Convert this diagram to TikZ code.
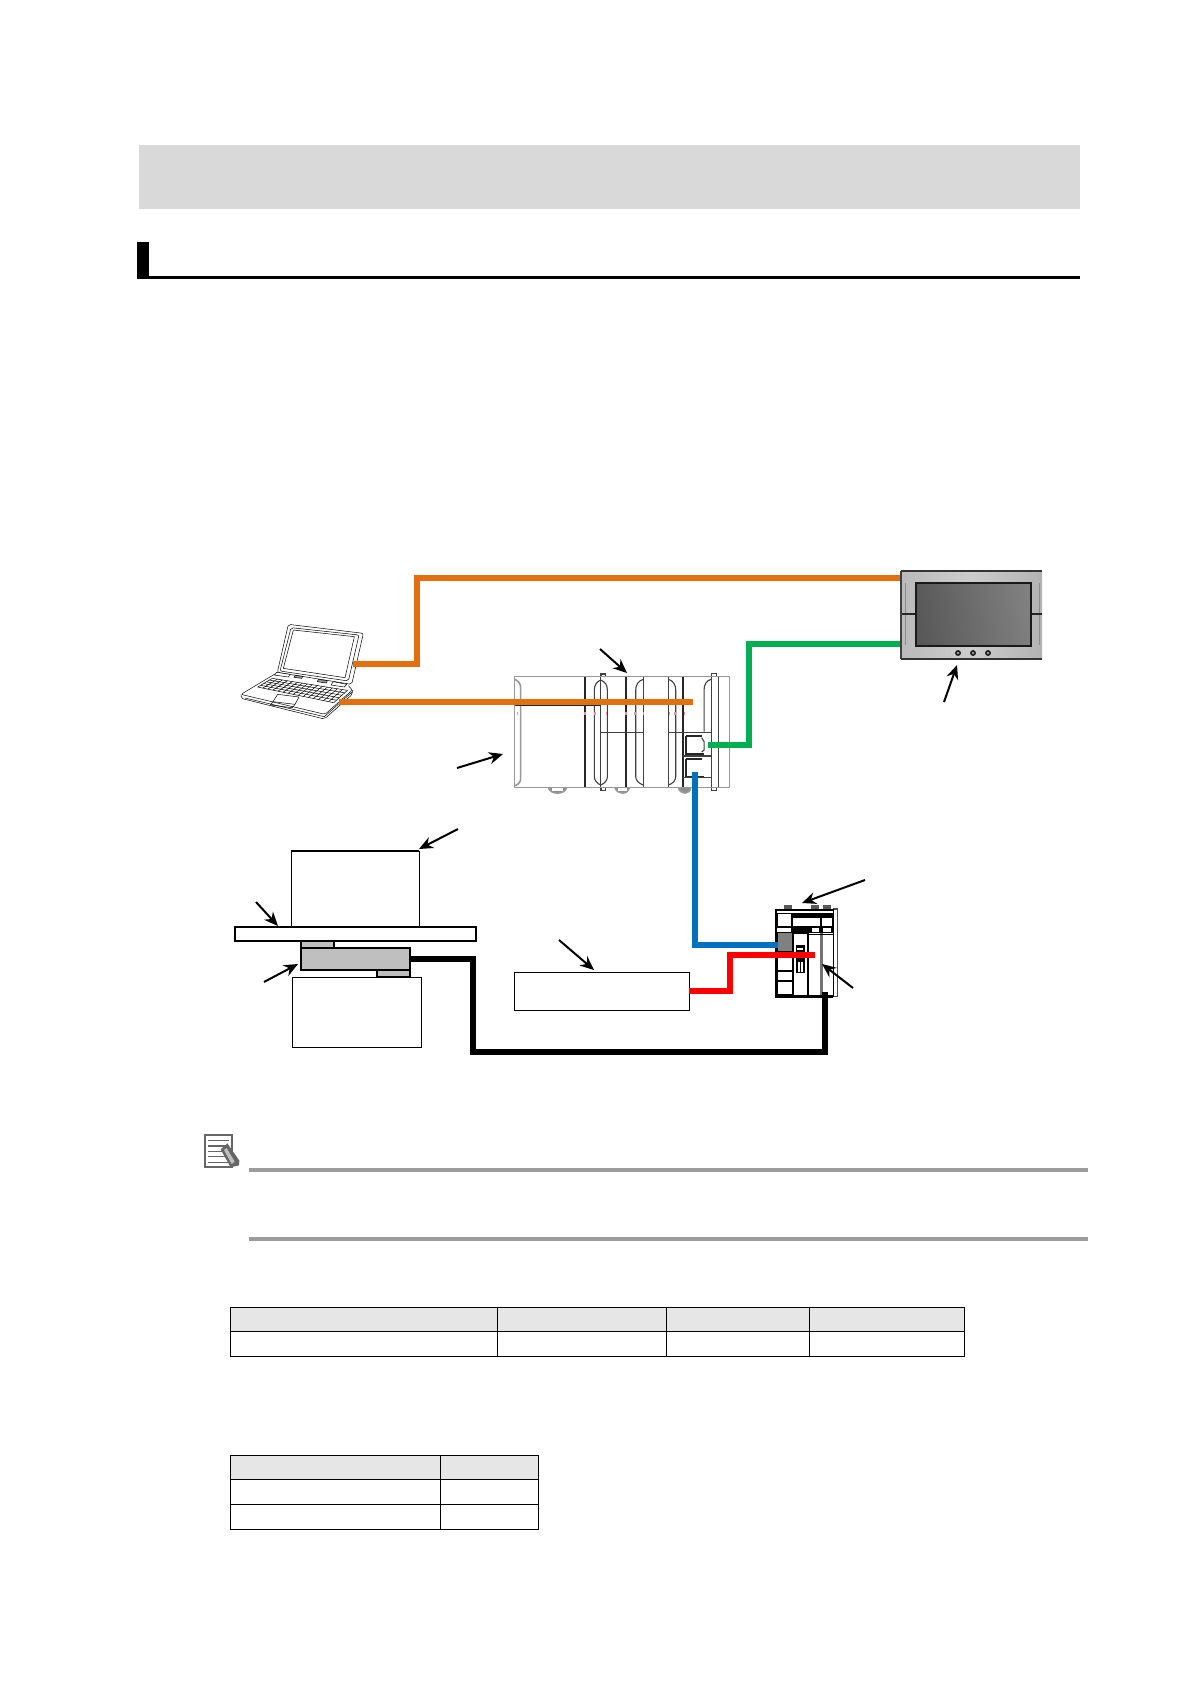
\documentclass[tikz,border=0pt]{standalone}
\usetikzlibrary{arrows.meta,calc,fit}
\definecolor{cblorange}{HTML}{E26F10}
\definecolor{cblgreen}{HTML}{00B050}
\definecolor{cblblue}{HTML}{0070C0}
\definecolor{cblred}{HTML}{FF0000}
\definecolor{bandgray}{HTML}{D9D9D9}
\definecolor{headgray}{HTML}{E6E6E6}
\definecolor{actgray}{HTML}{BFBFBF}
\definecolor{rulegray}{HTML}{9C9C9C}
\tikzset{
  cable/.style={line width=2.7pt,miter limit=10},
  pointer/.style={line width=1pt,-{Stealth[length=7pt,width=6pt]}},
  mbox/.style={inner sep=0pt,outer sep=0pt,draw=black,line width=0.45pt,fill=white},
  cellhead/.style={inner sep=0pt,outer sep=0pt,draw=black,line width=0.5pt,fill=headgray},
  cellbody/.style={inner sep=0pt,outer sep=0pt,draw=black,line width=0.5pt,fill=white},
  plcline/.style={draw=black!75,line width=0.55pt},
  plcthick/.style={draw=black!85,line width=1pt},
  plcpale/.style={draw=black!40,line width=0.8pt},
  lap/.style={draw=black,line width=0.25pt,line join=round},
  devfill/.style={fill=black,draw=none},
  devwhite/.style={fill=white,draw=none}
}
\newcommand{\rectnode}[6]{%
  \coordinate (#2-p) at (#3,#4); \coordinate (#2-q) at (#5,#6);
  \node[#1,fit=(#2-p)(#2-q)] (#2) {};}
\newcommand{\pointerline}[5]{%
  \coordinate (#1s) at (#2,#3); \coordinate (#1e) at (#4,#5);
  \draw[pointer] (#1s) -- (#1e);}
\begin{document}
\begin{tikzpicture}[x=0.5pt,y=-0.5pt]
\useasboundingbox (0,0) rectangle (1191,1684);
\fill[white] (0,0) rectangle (1191,1684);

% title band and section head
\rectnode{fill=bandgray,inner sep=0pt,outer sep=0pt}{band}{139}{145}{1080}{209.5}
\rectnode{fill=black,inner sep=0pt,outer sep=0pt}{secblock}{137}{242}{149}{279}
\rectnode{fill=black,inner sep=0pt,outer sep=0pt}{secrule}{149}{276}{1080}{279}

% laptop
\begin{scope}[shift={(235,615)},x=0.1667pt,y=-0.1667pt]
\draw[lap,rounded corners=1pt] (160,28) -- (385,55) -- (350,208) -- (127,172) -- cycle;
\draw[lap,rounded corners=1pt] (168,38) -- (372,60) -- (340,198) -- (135,168) -- cycle;
\draw[lap] (175,45) -- (358,65) -- (330,188) -- (145,160) -- cycle;
\draw[lap,rounded corners=1pt] (118,178) -- (18,238) -- (270,298) -- (352,225) -- (340,212);
\draw[lap,rounded corners=1pt] (18,238) -- (18,250) -- (268,312) -- (352,238) -- (352,225);
\draw[lap] (30,249) -- (268,305) -- (350,232);
\draw[lap,fill=white] (125,172) -- (165,178) -- (160,186) -- (118,180) -- cycle;
\draw[lap,fill=white] (295,200) -- (335,208) -- (328,216) -- (288,210) -- cycle;
\draw[lap,fill=black!40] (180,181) -- (203,184) -- (200,190) -- (177,187) -- cycle;
\draw[lap,fill=black!40] (250,193) -- (277,197) -- (274,204) -- (247,200) -- cycle;
\coordinate (ka) at (112,190); \coordinate (kb) at (337,226);
\coordinate (kc) at (296,263); \coordinate (kd) at (68,216);
\foreach \t in {0,0.0667,...,1.01} \draw[lap] ($(ka)!\t!(kb)$) -- ($(kd)!\t!(kc)$);
\foreach \t in {0,0.2,...,1.01} \draw[lap] ($(ka)!\t!(kd)$) -- ($(kb)!\t!(kc)$);
\draw[lap,fill=white] (128,238) -- (192,246) -- (180,268) -- (114,260) -- cycle;
\draw[lap] (114,260) -- (106,270) -- (172,278) -- (180,268);
\end{scope}

% PLC
\begin{scope}[shift={(500,670)},x=0.1667pt,y=-0.1667pt]
\draw[plcpale,fill=black!45] (145,352) .. controls (150,375) and (195,375) .. (200,352) -- cycle;
\draw[plcpale,fill=black!45] (345,352) .. controls (350,375) and (385,375) .. (388,352) -- cycle;
\draw[plcpale,fill=black!45] (535,352) .. controls (540,375) and (570,375) .. (572,352) -- cycle;
\fill[white] (155,352) rectangle (190,362);
\fill[white] (355,352) rectangle (380,362);
\draw[plcline,fill=white] (303,12) rectangle (317,22);
\draw[plcline,fill=white] (303,350) rectangle (317,362);
\draw[plcline,fill=white] (633,10) rectangle (650,22);
\draw[plcline,fill=white] (633,350) rectangle (650,362);
\draw[plcpale,fill=white] (44,20) rectangle (688,352);
\draw[plcpale] (44,28) .. controls (55,32) and (62,40) .. (62,55) -- (62,325) .. controls (62,335) and (55,345) .. (44,347);
\draw[plcline] (302,30) .. controls (290,35) and (283,45) .. (283,60) -- (283,320) .. controls (283,330) and (290,340) .. (302,345) .. controls (315,340) and (322,330) .. (322,320) -- (322,60) .. controls (322,45) and (315,35) .. (302,30);
\draw[plcline] (302,20) -- (302,352);
\draw[plcthick] (254,20) -- (254,352);
\draw[plcthick] (379,20) -- (379,352);
\draw[plcline] (430,20) -- (430,352);
\draw[plcline] (430,28) .. controls (415,32) and (407,45) .. (407,60) -- (407,320) .. controls (407,330) and (415,340) .. (430,345);
\draw[plcline] (505,20) -- (505,352);
\draw[plcline] (505,28) .. controls (520,32) and (527,45) .. (527,60) -- (527,320) .. controls (527,330) and (520,340) .. (505,345);
\draw[plcthick] (550,20) -- (550,352);
\draw[plcline] (633,28) .. controls (618,32) and (612,45) .. (612,60) -- (612,185);
\draw[plcline] (633,20) -- (633,352);
\draw[plcline] (655,20) -- (655,352);
\draw[plcline] (300,187) -- (430,187);
\draw[plcline] (505,187) -- (633,187);
\draw[plcthick] (44,106) -- (302,106);
\draw[plcthick] (558,198) -- (558,252) -- (612,252);
\draw[plcthick] (558,198) -- (605,198);
\draw[plcthick] (558,268) -- (558,322) -- (612,322);
\draw[plcthick] (558,268) -- (605,268);
\draw[plcline] (605,203) -- (612,215) -- (612,240) -- (605,246);
\draw[plcline] (550,258) -- (633,258);
\draw[plcline] (550,323) -- (633,323);
\foreach \px in {52,255,285,320,378,405,430,508,525,553}
  \draw[red!45,line width=0.6pt] (\px,126) -- (\px,136);
\end{scope}

% HMI
\shade[left color=black!27,right color=black!30,middle color=black!20] (901,571) rectangle (1042,659);
\draw[black!75,line width=0.6pt] (901,659) -- (901,571);
\draw[black!80,line width=1pt] (901,571) -- (1042,571);
\draw[black!80,line width=1pt] (901,659) -- (1042,659);
\draw[black!45,line width=0.5pt] (905,583) -- (905,645);
\draw[black!45,line width=0.5pt] (1039,583) -- (1039,645);
\draw[black!85,line width=0.7pt] (902,614) -- (916,614);
\draw[black!85,line width=0.7pt] (1031,614) -- (1042,614);
\shade[left color=black!65,middle color=black!40,right color=black!50,shading angle=100] (916,583) rectangle (1031,646);
\draw[black!90,line width=1pt] (916,583) rectangle (1031,646);
\foreach \bx in {958,973,988}
  \draw[black!90,fill=black!45,line width=0.7pt] (\bx,653) circle (2.2);
\coordinate (hmiA) at (900,578);
\coordinate (hmiB) at (900,644);

% servo device
\begin{scope}[shift={(765,895)},x=0.1667pt,y=-0.1667pt]
\foreach \kx in {70,150,185}
  \fill[black!65] (\kx-12,30) rectangle (\kx+12,42);
\draw[black!70,line width=0.7pt] (205,42) -- (218,42) -- (218,305) -- (205,305);
\fill[devfill] (30,42) rectangle (205,115);
\fill[devwhite] (36,47) rectangle (205,53);
\fill[devwhite] (38,58) rectangle (78,92);
\fill[devwhite] (85,68) rectangle (165,93);
\fill[devwhite] (172,68) rectangle (200,93);
\fill[devwhite] (142,100) rectangle (162,110);
\fill[devwhite] (175,100) rectangle (197,110);
\fill[devwhite] (36,100) rectangle (78,112);
\fill[black!50] (38,115) rectangle (80,168);
\fill[devfill] (30,115) rectangle (38,308);
\fill[devfill] (30,168) rectangle (85,308);
\fill[devfill] (30,300) rectangle (205,308);
\fill[devwhite] (38,190) rectangle (80,225);
\fill[devwhite] (38,232) rectangle (80,254);
\fill[devwhite] (38,262) rectangle (80,298);
\fill[devfill] (80,115) rectangle (88,305);
\fill[devfill] (125,115) rectangle (133,305);
\fill[devfill] (88,112) rectangle (133,118);
\fill[devwhite] (93,118) rectangle (117,140);
\fill[devfill] (92,150) rectangle (120,235);
\fill[devwhite] (97,158) rectangle (115,165);
\fill[devwhite] (98,202) rectangle (104,230);
\fill[devwhite] (108,202) rectangle (114,230);
\fill[black!55] (166,115) rectangle (175,300);
\draw[black,line width=0.8pt] (205,42) -- (205,305);
\draw[black,line width=0.8pt] (133,118) -- (205,118);
\end{scope}
\coordinate (devB) at (778,945);
\coordinate (devR) at (815,955);
\coordinate (devK) at (825,992);

% mechanics
\rectnode{mbox}{upbox}{291}{851}{419}{927}
\draw[line width=1.2pt] (291,851) -- (419,851);
\rectnode{mbox,line width=1.1pt}{plate}{235}{927}{476}{941}
\rectnode{mbox,fill=actgray,line width=0.9pt}{gtop}{301}{941}{334}{948}
\rectnode{mbox,fill=actgray,line width=0.9pt}{act}{301}{948}{410}{970}
\rectnode{mbox,fill=actgray,line width=0.9pt}{gbot}{377}{970}{410}{977}
\rectnode{mbox}{lowbox}{292}{977}{421}{1047}
\rectnode{mbox}{ctl}{514}{972}{689}{1010}

% cables
\coordinate (lapA) at (353,664);
\coordinate (lapB) at (339,702);
\coordinate (plcA) at (693,702);
\coordinate (plcG) at (708,745);
\coordinate (plcB) at (695,772);
\coordinate (o1t) at (417,578);
\coordinate (g1) at (749,644);
\coordinate (r1) at (730,955);
\coordinate (k1) at (473,1052);
\draw[cable,cblorange] (lapA) -| (o1t) -- (hmiA);
\draw[cable,cblorange] (lapB) -- (plcA);
\draw[cable,cblgreen] (plcG) -| (g1) -- (hmiB);
\draw[cable,cblblue] (plcB) |- (devB);
\draw[cable,cblred] (ctl.east) -| (r1) -- (devR);
\draw[cable,black,line width=3pt] (act.east) -| (k1) -| (devK);

% pointers
\pointerline{pa}{600}{649}{627}{673}
\pointerline{pb}{457}{768}{503}{754}
\pointerline{pc}{944}{702}{957}{665}
\pointerline{pd}{865}{880}{802}{903}
\pointerline{pe}{853}{988}{822}{964}
\pointerline{pf}{458}{829}{419}{849}
\pointerline{pg}{256}{902}{278}{926}
\pointerline{ph}{264}{982}{298}{964}
\pointerline{pi}{559}{940}{594}{970}

% note icon and rules
\begin{scope}[shift={(190,1120)},x=0.1667pt,y=-0.1667pt]
\draw[black!60,line width=1pt,fill=white] (46,46) rectangle (125,140);
\foreach \ly in {62,78,95,110,127}
  \draw[black!60,line width=0.8pt] (54,\ly) -- (117,\ly);
\fill[black!60] (92,88) -- (112,70) -- (148,122) -- (147,136) -- (122,142) -- cycle;
\fill[black!25] (102,90) -- (110,84) -- (134,125) -- (125,132) -- cycle;
\end{scope}
\coordinate (ruleAl) at (249,1170); \coordinate (ruleAr) at (1088,1170);
\coordinate (ruleBl) at (249,1239); \coordinate (ruleBr) at (1088,1239);
\draw[rulegray,line width=2pt] (ruleAl) -- (ruleAr);
\draw[rulegray,line width=2pt] (ruleBl) -- (ruleBr);

% table 1
\rectnode{cellhead}{ta11}{230}{1307}{497}{1331}
\rectnode{cellhead}{ta12}{497}{1307}{666}{1331}
\rectnode{cellhead}{ta13}{666}{1307}{809}{1331}
\rectnode{cellhead}{ta14}{809}{1307}{964}{1331}
\rectnode{cellbody}{ta21}{230}{1331}{497}{1356}
\rectnode{cellbody}{ta22}{497}{1331}{666}{1356}
\rectnode{cellbody}{ta23}{666}{1331}{809}{1356}
\rectnode{cellbody}{ta24}{809}{1331}{964}{1356}
% table 2
\rectnode{cellhead}{tb11}{230}{1455}{440}{1479}
\rectnode{cellhead}{tb12}{440}{1455}{538}{1479}
\rectnode{cellbody}{tb21}{230}{1479}{440}{1504}
\rectnode{cellbody}{tb22}{440}{1479}{538}{1504}
\rectnode{cellbody}{tb31}{230}{1504}{440}{1529}
\rectnode{cellbody}{tb32}{440}{1504}{538}{1529}
\end{tikzpicture}
\end{document}
